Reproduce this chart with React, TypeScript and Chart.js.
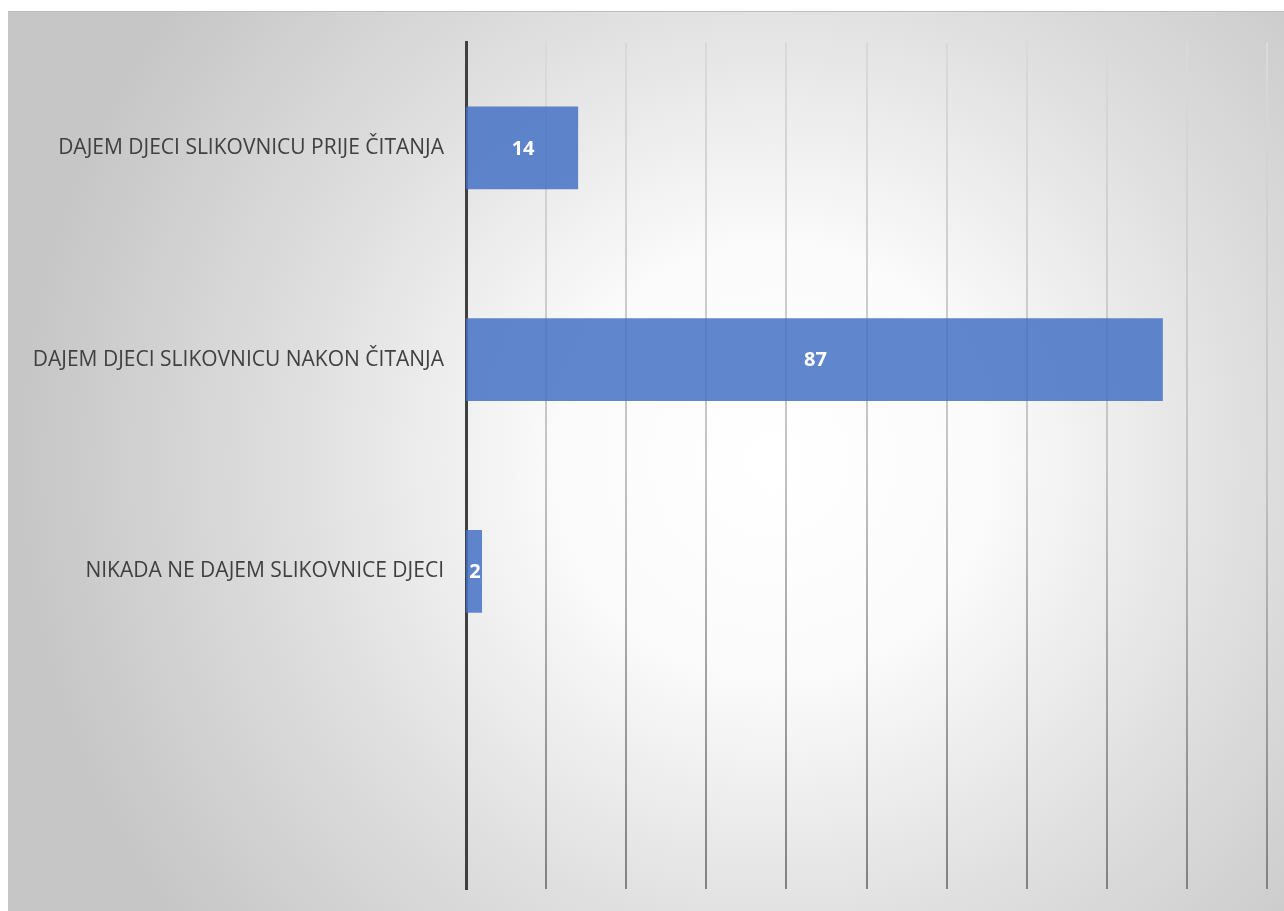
import React, { useEffect, useRef } from "react";
import { Chart, registerables } from "chart.js";

Chart.register(...registerables);

const categories: string[] = [
  "DAJEM DJECI SLIKOVNICU PRIJE ČITANJA",
  "DAJEM DJECI SLIKOVNICU NAKON ČITANJA",
  "NIKADA NE DAJEM SLIKOVNICE DJECI",
  "",
];
const values: (number | null)[] = [14, 87, 2, null];
const xMin = 0;
const xMax = 100;
const xStep = 10;

const valueLabels = {
  id: "valueLabels",
  afterDatasetsDraw(chart: any) {
    const { ctx } = chart;
    const meta = chart.getDatasetMeta(0);
    ctx.save();
    ctx.fillStyle = "#ffffff";
    ctx.font = "bold 20px 'Open Sans'";
    ctx.textAlign = "center";
    ctx.textBaseline = "middle";
    meta.data.forEach((bar: any, i: number) => {
      const v = values[i];
      if (v === null || v === undefined) return;
      const cx = (bar.x + bar.base) / 2;
      ctx.fillText(String(v), cx + 1, bar.y + 1);
    });
    ctx.restore();
  },
};

export default function App() {
  const canvasRef = useRef<HTMLCanvasElement | null>(null);

  useEffect(() => {
    if (!canvasRef.current) return;
    const chart = new Chart(canvasRef.current, {
      type: "bar",
      data: {
        labels: categories,
        datasets: [
          {
            data: values,
            backgroundColor: "rgba(68,114,196,0.85)",
            borderWidth: 0,
            categoryPercentage: 1,
            barPercentage: 0.39,
          },
        ],
      },
      options: {
        indexAxis: "y",
        animation: false,
        responsive: true,
        maintainAspectRatio: false,
        layout: { padding: { top: 30, right: 17, bottom: 22, left: 0 } },
        plugins: {
          legend: { display: false },
          tooltip: { enabled: false },
        },
        scales: {
          x: {
            min: xMin,
            max: xMax,
            ticks: { display: false, stepSize: xStep },
            border: { display: false },
            afterFit: (axis: any) => {
              axis.height = 0;
              axis.paddingLeft = 0;
              axis.paddingRight = 0;
            },
            grid: {
              drawTicks: false,
              lineWidth: (c: any) => (c.index === 0 ? 0 : 2),
              color: (c: any) => {
                const ch = c.chart;
                const area = ch.chartArea;
                if (!area) return "#c0c0c0";
                const g = ch.ctx.createLinearGradient(0, area.top, 0, area.bottom);
                g.addColorStop(0, "rgba(218,218,218,1)");
                g.addColorStop(0.5, "rgba(195,195,195,1)");
                g.addColorStop(1, "rgba(130,130,130,1)");
                return g;
              },
            },
          },
          y: {
            grid: { display: false, drawTicks: false },
            border: { display: true, color: "#404040", width: 3 },
            afterFit: (axis: any) => {
              axis.width = 458;
              axis.paddingTop = 0;
              axis.paddingBottom = 0;
            },
            ticks: {
              color: "#404040",
              padding: 22,
              font: { family: "'Open Sans'", size: 21 },
            },
          },
        },
      },
      plugins: [valueLabels],
    });
    return () => chart.destroy();
  }, []);

  return (
    <div
      style={{
        position: "fixed",
        left: 8,
        top: 11,
        right: 0,
        bottom: 0,
        borderTop: "1px solid #bdbdbd",
        background:
          "radial-gradient(circle at 60% 50%, #ffffff 0%, #fbfbfb 24%, #dedede 55%, #c6c6c6 85%)",
      }}
    >
      <canvas ref={canvasRef} />
    </div>
  );
}
